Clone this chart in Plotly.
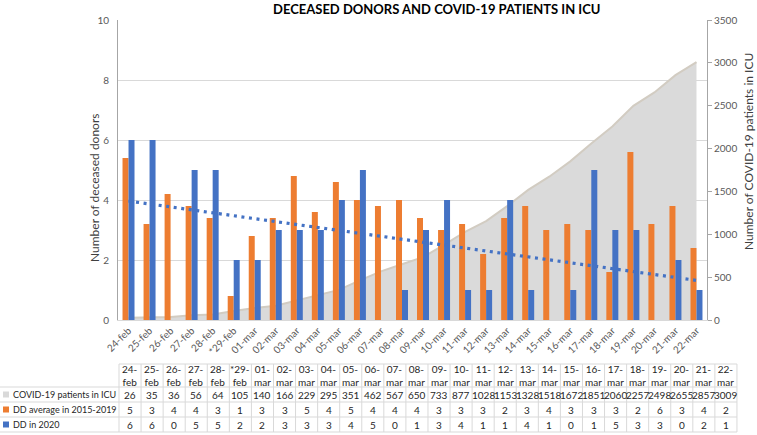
import numpy as np
import plotly.graph_objects as go

# ---------------- data ----------------
dates = ['24-feb', '25-feb', '26-feb', '27-feb', '28-feb', '*29-feb',
         '01-mar', '02-mar', '03-mar', '04-mar', '05-mar', '06-mar', '07-mar',
         '08-mar', '09-mar', '10-mar', '11-mar', '12-mar', '13-mar', '14-mar',
         '15-mar', '16-mar', '17-mar', '18-mar', '19-mar', '20-mar', '21-mar',
         '22-mar']
icu_patients = [26, 35, 36, 56, 64, 105, 140, 166, 229, 295, 351, 462, 567,
                650, 733, 877, 1028, 1153, 1328, 1518, 1672, 1851, 2060, 2257,
                2498, 2655, 2857, 3009]
dd_avg_2015_2019 = [5.4, 3.2, 4.2, 3.8, 3.4, 0.8, 2.8, 3.4, 4.8, 3.6, 4.6, 4.0,
                    3.8, 4.0, 3.4, 3.0, 3.2, 2.2, 3.4, 3.8, 3.0, 3.2, 3.0, 1.6,
                    5.6, 3.2, 3.8, 2.4]
dd_2020 = [6, 6, 0, 5, 5, 2, 2, 3, 3, 3, 4, 5, 0, 1, 3, 4, 1, 1, 4, 1, 0, 1,
           5, 3, 3, 0, 2, 1]
row_labels = ['COVID-19 patients in ICU', 'DD average in 2015-2019', 'DD in 2020']

# linear trend of DD in 2020
idx = np.arange(len(dd_2020))
slope, intercept = np.polyfit(idx, dd_2020, 1)
trend = slope * idx + intercept

GRAY, ORANGE, BLUE = '#d9d9d9', '#ED7D31', '#4472C4'
FONT = 'Lato'

# ---------------- layout geometry (pixels) ----------------
W_FIG, H_FIG = 757, 435
L, R, T, B = 118, 707, 20, 320
PW, PH = R - L, B - T


def px2x(px):
    return (px - L) / PW


def py2y(py):
    return (B - py) / PH


fig = go.Figure()
fig.add_trace(go.Scatter(x=dates, y=icu_patients, name=row_labels[0], mode='lines',
                         fill='tozeroy', fillcolor='#dadada',
                         line=dict(color='#d2ccc2', width=2), yaxis='y'))
fig.add_trace(go.Bar(x=dates, y=dd_avg_2015_2019, name=row_labels[1],
                     marker=dict(color=ORANGE, line=dict(width=0)), yaxis='y2'))
fig.add_trace(go.Bar(x=dates, y=dd_2020, name=row_labels[2],
                     marker=dict(color=BLUE, line=dict(width=0)), yaxis='y2'))
fig.add_trace(go.Scatter(x=dates, y=trend, name='Trend', mode='lines',
                         line=dict(color=BLUE, width=3.2, dash='3px,4.6px'),
                         yaxis='y2'))

shapes = []
annotations = []

# title
annotations.append(dict(text='<b>DECEASED DONORS AND COVID-19 PATIENTS IN ICU</b>',
                        xref='paper', yref='paper', x=px2x(436), y=py2y(9),
                        xanchor='center', yanchor='middle', showarrow=False,
                        font=dict(family=FONT, size=13, color='#000000')))
# axis titles
annotations.append(dict(text='Number of deceased donors', xref='paper', yref='paper',
                        x=px2x(94), y=py2y(188), textangle=-90, showarrow=False,
                        xanchor='center', yanchor='middle',
                        font=dict(family=FONT, size=12, color='#404040')))
annotations.append(dict(text='Number of COVID-19 patients in ICU', xref='paper',
                        yref='paper', x=px2x(749), y=py2y(152), textangle=-90,
                        showarrow=False, xanchor='center', yanchor='middle',
                        font=dict(family=FONT, size=12, color='#404040')))

# ---------------- data table ----------------
tab_left, col_w = 119, 22.07
n = len(dates)
tab_right = tab_left + n * col_w
hdr_top, rows_y = 364, [387, 402, 417, 432]
line_c = '#d9d9d9'

# horizontal lines
shapes.append(dict(type='line', xref='paper', yref='paper', x0=px2x(tab_left),
                   x1=px2x(tab_right), y0=py2y(hdr_top), y1=py2y(hdr_top),
                   line=dict(color=line_c, width=1)))
for ry in rows_y:
    shapes.append(dict(type='line', xref='paper', yref='paper', x0=px2x(0),
                       x1=px2x(tab_right), y0=py2y(ry), y1=py2y(ry),
                       line=dict(color=line_c, width=1)))
# vertical lines
for k in range(n + 1):
    xx = px2x(tab_left + k * col_w)
    shapes.append(dict(type='line', xref='paper', yref='paper', x0=xx, x1=xx,
                       y0=py2y(hdr_top), y1=py2y(rows_y[-1]),
                       line=dict(color=line_c, width=1)))

tfont = dict(family=FONT, size=10, color='#262626')
lfont = dict(family=FONT, size=9, color='#262626')
row_vals = [[str(v) for v in icu_patients],
            ['%.0f' % v for v in dd_avg_2015_2019],
            [str(v) for v in dd_2020]]
for k, d in enumerate(dates):
    cx = px2x(tab_left + (k + 0.5) * col_w)
    day, mon = d.split('-')
    annotations.append(dict(text=day + '-<br>' + mon, xref='paper', yref='paper',
                            x=cx, y=py2y((hdr_top + rows_y[0]) / 2), showarrow=False,
                            xanchor='center', yanchor='middle', font=tfont))
    for r in range(3):
        yc = py2y((rows_y[r] + rows_y[r + 1]) / 2)
        annotations.append(dict(text=row_vals[r][k], xref='paper', yref='paper',
                                x=cx, y=yc, showarrow=False, xanchor='center',
                                yanchor='middle', font=tfont))

key_colors = ['#d9d9d9', ORANGE, BLUE]
for r, lab in enumerate(row_labels):
    yc_px = (rows_y[r] + rows_y[r + 1]) / 2
    shapes.append(dict(type='rect', xref='paper', yref='paper', x0=px2x(3), x1=px2x(9),
                       y0=py2y(yc_px + 3), y1=py2y(yc_px - 3),
                       fillcolor=key_colors[r], line=dict(width=0)))
    annotations.append(dict(text=lab, xref='paper', yref='paper', x=px2x(11),
                            y=py2y(yc_px), showarrow=False, xanchor='left',
                            yanchor='middle', font=lfont))

axis_font = dict(family=FONT, size=10, color='#595959')
fig.update_layout(
    width=W_FIG, height=H_FIG,
    margin=dict(l=L, r=W_FIG - R, t=T, b=H_FIG - B, autoexpand=False),
    paper_bgcolor='white', plot_bgcolor='white',
    showlegend=False, barmode='group', bargap=0.43, bargroupgap=0,
    font=dict(family=FONT),
    xaxis=dict(type='category', range=[-0.5, n - 0.5], tickangle=-45,
               tickfont=axis_font, showgrid=False, showline=True,
               linecolor='#d9d9d9', ticks='', automargin=False),
    yaxis=dict(side='right', range=[0, 3500], dtick=500, showgrid=False,
               zeroline=False, showline=True, linecolor='#a6a6a6', linewidth=1,
               ticks='outside', ticklen=4, tickcolor='#a6a6a6',
               tickfont=axis_font, automargin=False),
    yaxis2=dict(side='left', overlaying='y', range=[0, 10], dtick=2, showgrid=True,
                gridcolor='#d9d9d9', zeroline=False, showline=True,
                linecolor='#a6a6a6', linewidth=1, ticks='outside', ticklen=6,
                tickcolor='rgba(0,0,0,0)', tickfont=axis_font, automargin=False),
    shapes=shapes, annotations=annotations,
)

fig.write_html('out.html', config={'displayModeBar': False},
               post_script="document.body.style.margin='0';document.body.style.overflow='hidden';")
